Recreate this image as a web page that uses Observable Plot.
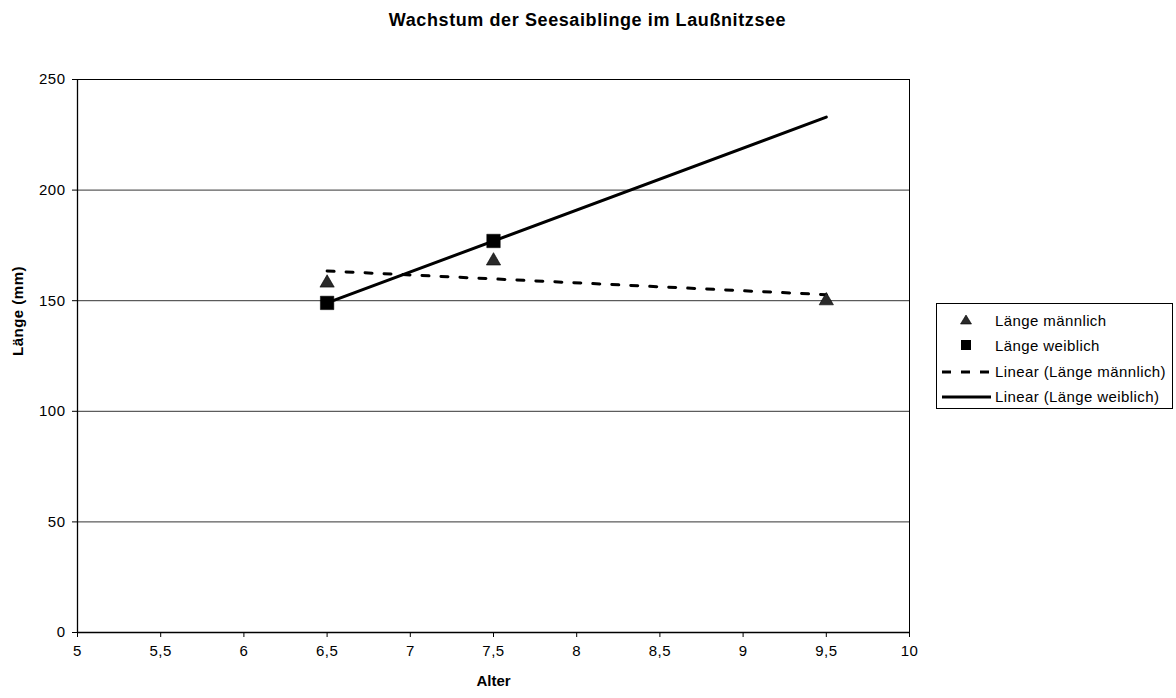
<!DOCTYPE html>
<html>
<head>
<meta charset="utf-8">
<script src="https://cdn.jsdelivr.net/npm/d3@7"></script>
<script src="https://cdn.jsdelivr.net/npm/@observablehq/plot@0.6"></script>
<style>
  html, body { margin: 0; padding: 0; background: #fff; }
  #wrap { position: relative; width: 1176px; height: 698px; font-family: "Liberation Sans", Arial, sans-serif; }
  #wrap svg g[aria-label$="tick label"] text { letter-spacing: 0.5px; }
  #legend { position: absolute; left: 936px; top: 303px; width: 237px; height: 106px; border: 1px solid #000; box-sizing: border-box; font-size: 15px; letter-spacing: 0.4px; color: #000; }
  #legend .row { position: absolute; left: 0; height: 20px; line-height: 20px; white-space: nowrap; }
  #legend .row svg { position: absolute; left: 4px; top: 0; }
  #legend .row span { position: absolute; left: 58px; top: 0; }
</style>
</head>
<body>
<div id="wrap"></div>
<script>
// Data
const alterMaennlich = [6.5, 7.5, 9.5];
const laengeMaennlich = [158, 168, 150];
const alterWeiblich = [6.5, 7.5];
const laengeWeiblich = [149, 177];
const trendBereich = [6.5, 9.5];
const xTicks = [5, 5.5, 6, 6.5, 7, 7.5, 8, 8.5, 9, 9.5, 10];
const yTicks = [0, 50, 100, 150, 200, 250];
const titel = "Wachstum der Seesaiblinge im Laußnitzsee";
const xLabel = "Alter";
const yLabel = "Länge (mm)";
const legendLabels = ["Länge männlich", "Länge weiblich", "Linear (Länge männlich)", "Linear (Länge weiblich)"];

const male = alterMaennlich.map((x, i) => ({x, y: laengeMaennlich[i]}));
const female = alterWeiblich.map((x, i) => ({x, y: laengeWeiblich[i]}));

// least-squares trend line (Excel "Linear" trendline)
function trend(data) {
  const mx = d3.mean(data, d => d.x), my = d3.mean(data, d => d.y);
  const sxy = d3.sum(data, d => (d.x - mx) * (d.y - my));
  const sxx = d3.sum(data, d => (d.x - mx) ** 2);
  const b = sxy / sxx, a = my - b * mx;
  return trendBereich.map(x => ({x, y: a + b * x}));
}
const trendM = trend(male);
const trendW = trend(female);

const fmt = d => String(d).replace(".", ",");

const chart = Plot.plot({
  width: 1176,
  height: 698,
  marginTop: 79,
  marginLeft: 77,
  marginRight: 267,
  marginBottom: 66,
  style: { fontFamily: '"Liberation Sans", Arial, sans-serif', fontSize: "15px", background: "#fff", color: "#000" },
  x: { domain: [5, 10] },
  y: { domain: [0, 250] },
  marks: [
    Plot.gridY(yTicks.slice(1, -1), { stroke: "#000", strokeOpacity: 0.8, strokeWidth: 1 }),
    Plot.ruleY([250], { stroke: "#000", strokeWidth: 1 }),
    Plot.ruleX([10], { stroke: "#000", strokeWidth: 1 }),
    Plot.ruleX([5], { stroke: "#000", strokeWidth: 1.3 }),
    Plot.ruleY([0], { stroke: "#000", strokeWidth: 1.3 }),
    Plot.axisY(yTicks, { tickSize: 5, tickPadding: 7, label: null, stroke: "#000" }),
    Plot.axisX(xTicks, { tickSize: 5, tickPadding: 8, label: null, tickFormat: fmt, stroke: "#000" }),
    Plot.line(trendM, { x: "x", y: "y", stroke: "#000", strokeWidth: 3, strokeDasharray: "7,12" }),
    Plot.line(trendW, { x: "x", y: "y", stroke: "#000", strokeWidth: 3 }),
    Plot.dot(male, { x: "x", y: "y", symbol: "triangle", r: 5.3, fill: "#2a2a2a", stroke: "#000", strokeWidth: 0.6 }),
    Plot.dot(female, { x: "x", y: "y", symbol: "square", r: 7.6, fill: "#000", stroke: "#000", strokeWidth: 0.5 }),
    Plot.text([titel], { frameAnchor: "top", dx: 94, dy: -66, fontWeight: "bold", fontSize: 18, fill: "#000" }),
    Plot.text([xLabel], { frameAnchor: "bottom", dy: 53, fontWeight: "bold", fontSize: 15, fill: "#000" }),
    Plot.text([yLabel], { frameAnchor: "left", dx: -59, rotate: -90, fontWeight: "bold", fontSize: 15, fill: "#000" })
  ]
});
// letter spacing to match the slightly wide text of the original
d3.select(chart).selectAll('g[aria-label="text"] text').each(function() {
  const t = this.textContent;
  if (t === titel) this.setAttribute("letter-spacing", "0.6px");
  if (t === yLabel) this.setAttribute("letter-spacing", "0.5px");
});
document.getElementById("wrap").appendChild(chart);

// Legend
const legend = document.createElement("div");
legend.id = "legend";
const rowTops = [7, 32, 58, 83];
const symbols = [
  '<svg width="50" height="20"><path d="M25,4 L30.5,13 L19.5,13 Z" fill="#2a2a2a" stroke="#000" stroke-width="0.6"/></svg>',
  '<svg width="50" height="20"><rect x="20" y="4" width="10" height="10" fill="#000"/></svg>',
  '<svg width="50" height="20"><line x1="1" y1="10" x2="50" y2="10" stroke="#000" stroke-width="3" stroke-dasharray="9,10"/></svg>',
  '<svg width="50" height="20"><line x1="1" y1="10" x2="50" y2="10" stroke="#000" stroke-width="3"/></svg>'
];
legendLabels.forEach((lab, i) => {
  const row = document.createElement("div");
  row.className = "row";
  row.style.top = rowTops[i] + "px";
  row.innerHTML = symbols[i] + "<span>" + lab + "</span>";
  legend.appendChild(row);
});
document.getElementById("wrap").appendChild(legend);
</script>
</body>
</html>
